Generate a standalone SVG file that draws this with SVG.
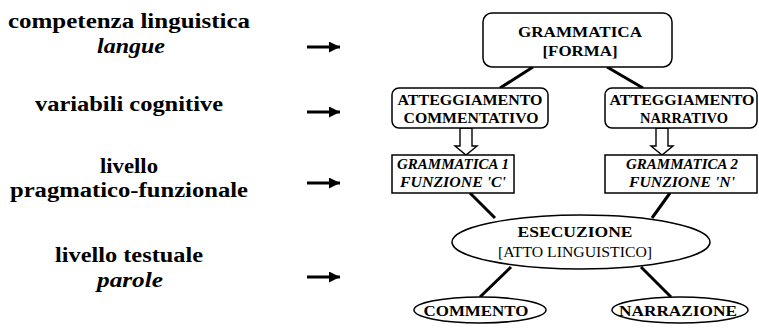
<svg xmlns="http://www.w3.org/2000/svg" width="759" height="328" viewBox="0 0 759 328">
<defs>
<marker id="ah" viewBox="0 0 10 10" refX="10" refY="5" markerWidth="12" markerHeight="11" markerUnits="userSpaceOnUse" orient="auto">
<path d="M0,0 L10,5 L0,10 Z" fill="#000"/>
</marker>
</defs>
<g id="labels" font-family="Liberation Serif" font-weight="bold" font-size="20" text-anchor="middle" fill="#000">
<text x="129" y="28" textLength="242" lengthAdjust="spacingAndGlyphs">competenza linguistica</text>
<text x="131" y="53" font-style="italic" textLength="68" lengthAdjust="spacingAndGlyphs">langue</text>
<text x="129" y="111" textLength="188" lengthAdjust="spacingAndGlyphs">variabili cognitive</text>
<text x="129" y="173" textLength="58" lengthAdjust="spacingAndGlyphs">livello</text>
<text x="129" y="197" textLength="238" lengthAdjust="spacingAndGlyphs">pragmatico-funzionale</text>
<text x="129" y="262" textLength="148" lengthAdjust="spacingAndGlyphs">livello testuale</text>
<text x="130" y="287" font-style="italic" textLength="66" lengthAdjust="spacingAndGlyphs">parole</text>
</g>
<g id="connectors" stroke="#000" stroke-width="3" fill="none">
<line x1="307" y1="47" x2="340" y2="47" marker-end="url(#ah)"/>
<line x1="307" y1="112" x2="340" y2="112" marker-end="url(#ah)"/>
<line x1="307" y1="183" x2="340" y2="183" marker-end="url(#ah)"/>
<line x1="307" y1="277" x2="340" y2="277" marker-end="url(#ah)"/>
<line x1="533" y1="67" x2="500" y2="88"/>
<line x1="607" y1="67" x2="643" y2="88"/>
<line x1="470" y1="193" x2="495" y2="218"/>
<line x1="670" y1="193" x2="652" y2="218"/>
<line x1="511" y1="267" x2="480" y2="297"/>
<line x1="641" y1="267" x2="671" y2="297"/>
<path fill="#fff" stroke-width="1.4" d="M466,128 h-6 v18 h-5 l11,9 l11,-9 h-5 v-18 z"/>
<path fill="#fff" stroke-width="1.4" d="M662,128 h-6 v18 h-5 l11,9 l11,-9 h-5 v-18 z"/>
</g>
<g font-family="Liberation Serif" font-weight="bold" font-size="14" text-anchor="middle">
<g id="grammatica">
<rect x="483" y="13" width="189" height="54" rx="9" fill="#fff" stroke="#000" stroke-width="1.5"/>
<text x="580" y="37" textLength="124" lengthAdjust="spacingAndGlyphs">GRAMMATICA</text>
<text x="580" y="56" textLength="75" lengthAdjust="spacingAndGlyphs">[FORMA]</text>
</g>
<g id="att-comm">
<rect x="392" y="88" width="156" height="40" rx="7" fill="#fff" stroke="#000" stroke-width="1.5"/>
<text x="470" y="105" textLength="145" lengthAdjust="spacingAndGlyphs">ATTEGGIAMENTO</text>
<text x="471" y="123" textLength="135" lengthAdjust="spacingAndGlyphs">COMMENTATIVO</text>
</g>
<g id="att-narr">
<rect x="605" y="88" width="152" height="40" rx="7" fill="#fff" stroke="#000" stroke-width="1.5"/>
<text x="682" y="105" textLength="145" lengthAdjust="spacingAndGlyphs">ATTEGGIAMENTO</text>
<text x="684" y="123" textLength="88" lengthAdjust="spacingAndGlyphs">NARRATIVO</text>
</g>
<g id="gram1" font-style="italic">
<rect x="392" y="155" width="122" height="38" fill="#fff" stroke="#000" stroke-width="1.5"/>
<text x="453" y="169" textLength="112" lengthAdjust="spacingAndGlyphs">GRAMMATICA 1</text>
<text x="453" y="187" textLength="106" lengthAdjust="spacingAndGlyphs">FUNZIONE 'C'</text>
</g>
<g id="gram2" font-style="italic">
<rect x="605" y="155" width="152" height="38" fill="#fff" stroke="#000" stroke-width="1.5"/>
<text x="682" y="169" textLength="112" lengthAdjust="spacingAndGlyphs">GRAMMATICA 2</text>
<text x="682" y="187" textLength="106" lengthAdjust="spacingAndGlyphs">FUNZIONE 'N'</text>
</g>
<g id="esecuzione">
<ellipse cx="581" cy="242" rx="129" ry="27" fill="#fff" stroke="#000" stroke-width="1.5"/>
<text x="575" y="237" textLength="115" lengthAdjust="spacingAndGlyphs">ESECUZIONE</text>
<text x="575" y="257" font-weight="normal" textLength="154" lengthAdjust="spacingAndGlyphs">[ATTO LINGUISTICO]</text>
</g>
<g id="commento">
<ellipse cx="480" cy="310" rx="66" ry="13" fill="#fff" stroke="#000" stroke-width="1.5"/>
<text x="476" y="316" textLength="105" lengthAdjust="spacingAndGlyphs">COMMENTO</text>
</g>
<g id="narrazione">
<ellipse cx="680" cy="310" rx="68" ry="13" fill="#fff" stroke="#000" stroke-width="1.5"/>
<text x="678" y="316" textLength="118" lengthAdjust="spacingAndGlyphs">NARRAZIONE</text>
</g>
</g>
</svg>
